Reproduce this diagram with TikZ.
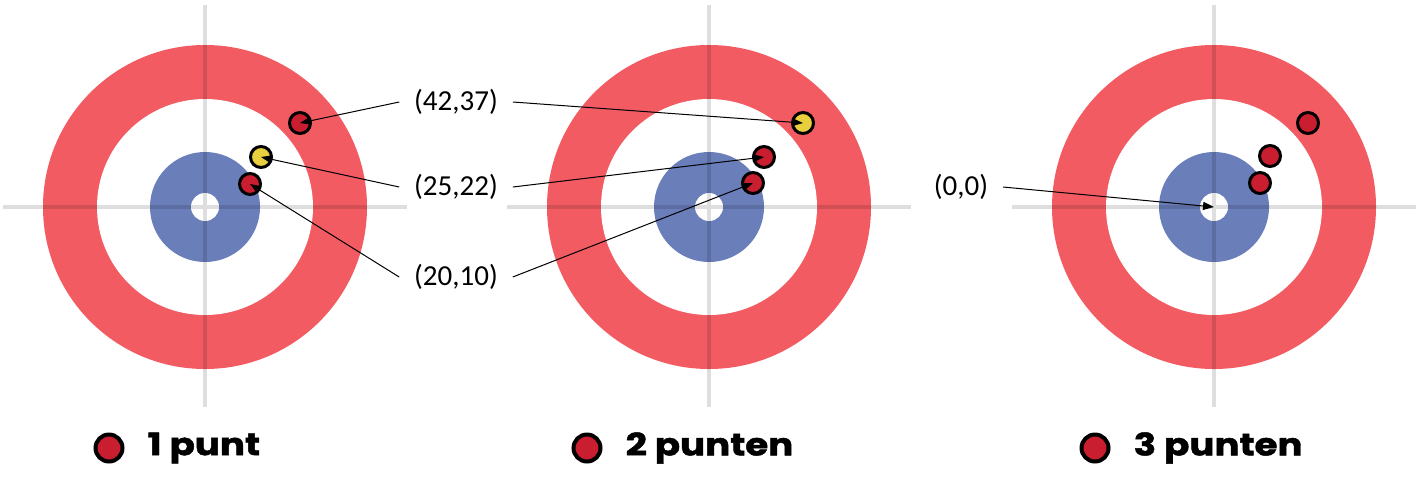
\documentclass[tikz,border=0pt]{standalone}
\usepackage{fontspec}
\setmainfont{Carlito}
\newfontfamily\legendfont{Poppins}[FakeStretch=1.2, FakeBold=1.5]
\usetikzlibrary{arrows.meta,positioning}

\definecolor{ringred}{HTML}{F35B63}
\definecolor{ringblue}{HTML}{6A7EBA}
\definecolor{stonered}{HTML}{C91E30}
\definecolor{stoneyellow}{HTML}{E9CF3E}

\tikzset{
  stone/.style={draw, circle, line width=3pt, minimum size=21pt, inner sep=0pt, fill=stonered},
  keystone/.style={stone, line width=4pt, minimum size=27pt},
  coord/.style={font=\fontsize{29}{29}\selectfont, inner sep=0pt, outer sep=15pt},
  pointer/.style={-{Triangle[length=11pt,width=8pt]}, line width=1pt},
  legend/.style={font=\legendfont\bfseries\fontsize{31}{31}\selectfont, inner sep=0pt},
  cross/.style={draw=black, opacity=0.13, line width=3.5pt},
}

\begin{document}
\begin{tikzpicture}[x=1pt,y=-1pt]
\useasboundingbox (0,0) rectangle (1423,499);

% the three houses
\foreach \cx in {205,709,1214} {
  \fill[ringred] (\cx,207) circle (162pt);
  \fill[white] (\cx,207) circle (108pt);
  \fill[ringblue] (\cx,207) circle (55pt);
  \fill[white] (\cx,207) circle (14pt);
  \draw[cross] (\cx-202,207) -- (\cx+202,207) (\cx,5) -- (\cx,407);
}

% stones
\node[stone] (r1a) at (300,123) {};
\node[stone, fill=stoneyellow] (y1) at (261,157) {};
\node[stone] (r1b) at (250,184) {};

\node[stone, fill=stoneyellow] (y2) at (803,123) {};
\node[stone] (r2a) at (764,157) {};
\node[stone] (r2b) at (753,183) {};

\node[stone] (r3a) at (1308,123) {};
\node[stone] (r3b) at (1270,156) {};
\node[stone] (r3c) at (1260,183) {};
\coordinate (button) at (1214,207);

% coordinates
\node[coord] (c4237) at (456,102) {(42,37)};
\node[coord] (c2522) at (456,187) {(25,22)};
\node[coord] (c2010) at (456,277) {(20,10)};
\node[coord] (c00) at (961,187) {(0,0)};

\draw[pointer] (c4237.west) -- (r1a.center);
\draw[pointer] (c2522.west) -- (y1.center);
\draw[pointer] (c2010.west) -- (r1b.center);
\draw[pointer] (c4237.east) -- (y2.center);
\draw[pointer] (c2522.east) -- (r2a.center);
\draw[pointer] (c2010.east) -- (r2b.center);
\draw[pointer] (c00.east) -- (button);

% legend
\node[keystone] (k1) at (109,448) {};
\node[legend, right=23pt of k1] (t1) {1 punt};
\node[keystone] (k2) at (587,448) {};
\node[legend, right=23pt of k2] (t2) {2 punten};
\node[keystone] (k3) at (1095,448) {};
\node[legend, right=23pt of k3] (t3) {3 punten};
\end{tikzpicture}
\end{document}
